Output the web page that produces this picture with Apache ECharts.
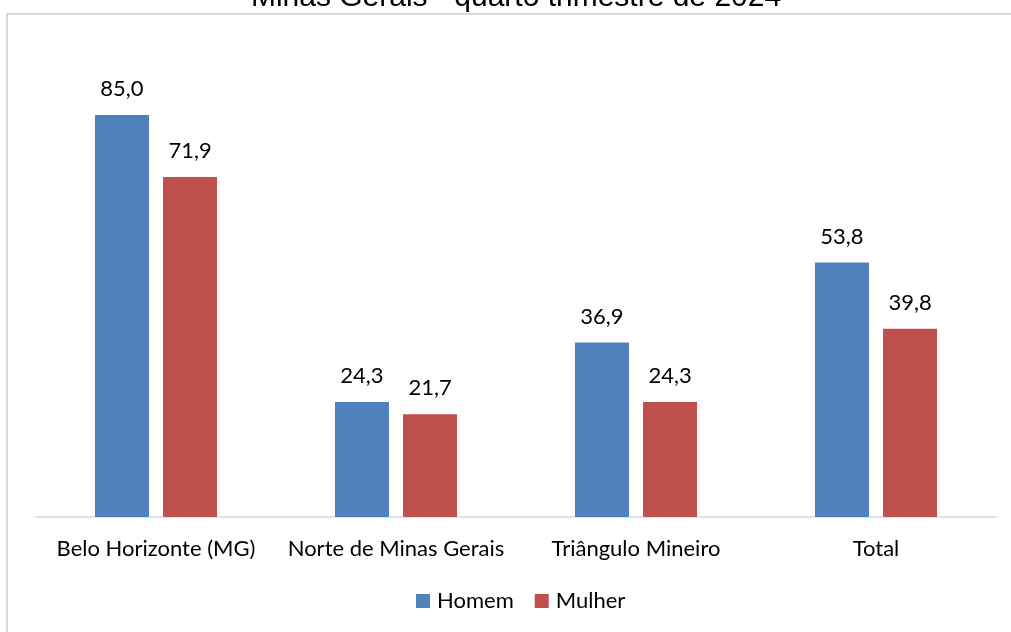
<!DOCTYPE html>
<html>
<head>
<meta charset="utf-8">
<script src="https://cdn.jsdelivr.net/npm/echarts@6/dist/echarts.min.js"></script>
<style>
  html, body { margin: 0; padding: 0; background: #fff; }
  #chart { width: 1011px; height: 632px; }
</style>
</head>
<body>
<div id="chart"></div>
<script>
// dados
var categorias = ['Belo Horizonte (MG)', 'Norte de Minas Gerais', 'Triângulo Mineiro', 'Total'];
var homem = [85.0, 24.3, 36.9, 53.8];
var mulher = [71.9, 21.7, 24.3, 39.8];
var titulo = 'Minas Gerais - quarto trimestre de 2024';

var fonte = 'Lato, "Noto Sans", sans-serif';

var chart = echarts.init(document.getElementById('chart'));

function rotulo(v){
  return v.value.toFixed(1).replace('.', ',');
}

chart.setOption({
  animation: false,
  graphic: [
    {
      type: 'rect',
      shape: {x: 7, y: 14, width: 1100, height: 700},
      style: {fill: 'none', stroke: '#d9d9d9', lineWidth: 2},
      z: 0
    },
    {
      type: 'text',
      x: 516, y: -2,
      style: {
        text: titulo,
        font: '30px "Liberation Sans", Arial, sans-serif',
        fill: '#000',
        align: 'center',
        verticalAlign: 'middle'
      }
    }
  ],
  legend: {
    data: ['Homem', 'Mulher'],
    left: 416,
    top: 590,
    padding: 0,
    icon: 'rect',
    itemWidth: 14,
    itemHeight: 14,
    itemGap: 21,
    textStyle: {fontFamily: fonte, fontSize: 22, color: '#000', padding: [0, 0, 0, 2]}
  },
  grid: {left: 36, right: 15, top: 44, bottom: 115},
  xAxis: {
    type: 'category',
    data: categorias,
    axisLine: {lineStyle: {color: '#d9d9d9', width: 1.5}},
    axisTick: {show: false},
    axisLabel: {fontFamily: fonte, fontSize: 22, color: '#000', margin: 21, interval: 0}
  },
  yAxis: {
    type: 'value',
    min: 0,
    max: 100,
    show: false,
    splitLine: {show: false}
  },
  series: [
    {
      name: 'Homem',
      type: 'bar',
      data: homem,
      barWidth: 54,
      barGap: '26%',
      itemStyle: {color: '#4f81bd'},
      label: {show: true, position: 'top', distance: 15, formatter: rotulo,
              fontFamily: fonte, fontSize: 22, color: '#000'}
    },
    {
      name: 'Mulher',
      type: 'bar',
      data: mulher,
      barWidth: 54,
      itemStyle: {color: '#c0504d'},
      label: {show: true, position: 'top', distance: 15, formatter: rotulo,
              fontFamily: fonte, fontSize: 22, color: '#000'}
    }
  ]
});
</script>
</body>
</html>
